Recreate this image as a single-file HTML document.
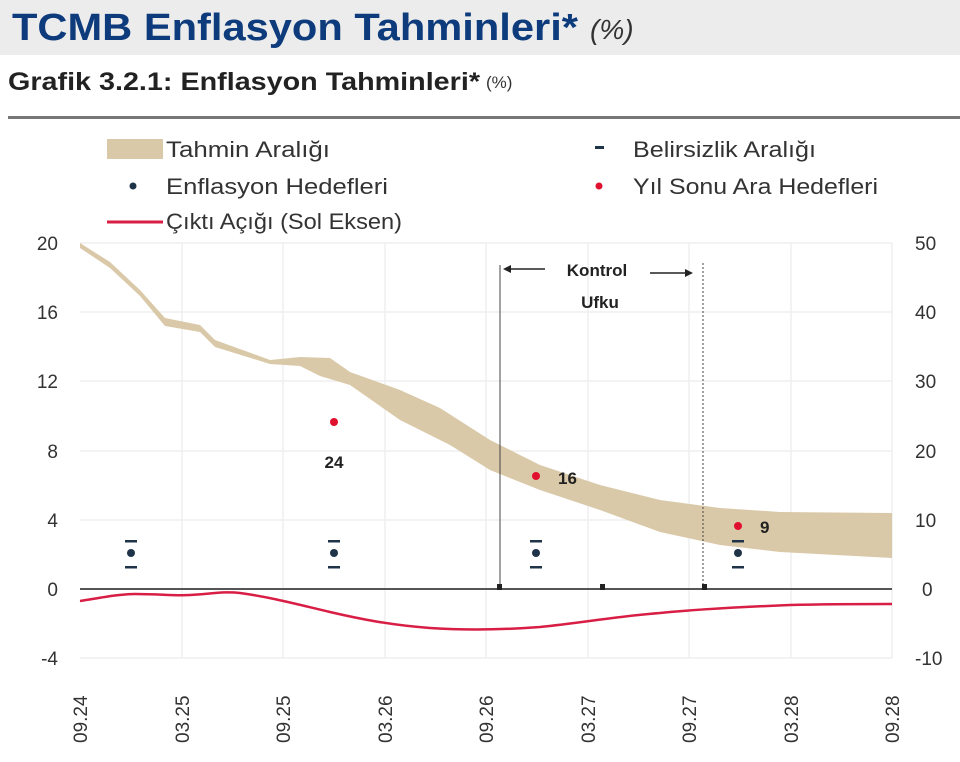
<!DOCTYPE html>
<html><head><meta charset="utf-8"><style>
body{margin:0;width:960px;height:757px;background:#fff;overflow:hidden;font-family:"Liberation Sans",sans-serif}
</style></head><body>
<svg width="960" height="757" xmlns="http://www.w3.org/2000/svg" font-family="Liberation Sans, sans-serif">
<rect x="0" y="0" width="960" height="55" fill="#ececec"/>
<text x="12" y="40" font-size="38" font-weight="bold" fill="#0d3b7c" textLength="566" lengthAdjust="spacingAndGlyphs">TCMB Enflasyon Tahminleri*</text>
<text x="590" y="39" font-size="28" font-style="italic" fill="#333">(%)</text>
<text x="8" y="90" font-size="25" font-weight="bold" fill="#222" textLength="472" lengthAdjust="spacingAndGlyphs">Grafik 3.2.1: Enflasyon Tahminleri*</text>
<text x="486" y="88" font-size="17" fill="#333">(%)</text>
<rect x="8" y="116" width="952" height="3" fill="#777"/>
<!-- legend -->
<g font-size="22" fill="#333">
<rect x="107" y="139" width="56" height="20" fill="#dac9a8"/>
<text x="166" y="157" textLength="164" lengthAdjust="spacingAndGlyphs">Tahmin Aralığı</text>
<circle cx="133" cy="186" r="3.5" fill="#1f3448"/>
<text x="166" y="194" textLength="222" lengthAdjust="spacingAndGlyphs">Enflasyon Hedefleri</text>
<line x1="107" y1="222" x2="163" y2="222" stroke="#d81e45" stroke-width="3"/>
<text x="166" y="229" textLength="236" lengthAdjust="spacingAndGlyphs">Çıktı Açığı (Sol Eksen)</text>
<rect x="595" y="146" width="9" height="3" fill="#1f3448"/>
<text x="633" y="157" textLength="183" lengthAdjust="spacingAndGlyphs">Belirsizlik Aralığı</text>
<circle cx="599" cy="186" r="3.5" fill="#e0102f"/>
<text x="633" y="194" textLength="245" lengthAdjust="spacingAndGlyphs">Yıl Sonu Ara Hedefleri</text>
</g>
<!-- grid -->
<g stroke="#efefef" stroke-width="1.5">
<line x1="80" y1="243" x2="892" y2="243"/><line x1="80" y1="312" x2="892" y2="312"/>
<line x1="80" y1="381" x2="892" y2="381"/><line x1="80" y1="451" x2="892" y2="451"/>
<line x1="80" y1="520" x2="892" y2="520"/><line x1="80" y1="658" x2="892" y2="658"/>
<line x1="182" y1="243" x2="182" y2="658"/><line x1="283" y1="243" x2="283" y2="658"/>
<line x1="385" y1="243" x2="385" y2="658"/><line x1="486" y1="243" x2="486" y2="658"/>
<line x1="588" y1="243" x2="588" y2="658"/><line x1="689" y1="243" x2="689" y2="658"/>
<line x1="791" y1="243" x2="791" y2="658"/><line x1="892" y1="243" x2="892" y2="658"/>
</g>
<!-- band -->
<path d="M80,243 L110,262 L140,290 L165,318 L200,325 L215,340 L270,360 L300,357 L330,358 L350,372 L400,390 L440,408 L490,440 L540,465 L600,485 L660,500 L720,508 L780,512 L892,513 L892,558 L780,552 L720,545 L660,532 L600,510 L540,490 L490,470 L450,445 L400,420 L350,385 L320,376 L300,366 L270,364 L215,347 L200,332 L165,326 L140,296 L110,268 L80,248 Z" fill="#dac9a8"/>
<!-- zero line -->
<line x1="80" y1="589" x2="892" y2="589" stroke="#555" stroke-width="2"/>
<!-- control horizon -->
<line x1="500" y1="265" x2="500" y2="589" stroke="#444" stroke-width="1"/>
<line x1="703" y1="263" x2="703" y2="589" stroke="#444" stroke-width="1" stroke-dasharray="2,2"/>
<rect x="497" y="584" width="5" height="6" fill="#222"/><rect x="600" y="584" width="5" height="6" fill="#222"/><rect x="702" y="584" width="5" height="6" fill="#222"/>
<line x1="508" y1="269" x2="545" y2="269" stroke="#222" stroke-width="1.5"/><path d="M503,269 L511,265 L511,273 Z" fill="#222"/>
<line x1="650" y1="273" x2="688" y2="273" stroke="#222" stroke-width="1.5"/><path d="M693,273 L685,269 L685,277 Z" fill="#222"/>
<text x="597" y="276" font-size="17" font-weight="bold" fill="#222" text-anchor="middle">Kontrol</text>
<text x="600" y="308" font-size="17" font-weight="bold" fill="#222" text-anchor="middle">Ufku</text>
<!-- output gap -->
<path d="M80,601 C105,597 120,594 135,594 C160,594 175,596 190,595 C210,594 225,591 240,593 C270,597 300,605 330,612 C360,619 390,625 430,628 C460,630 500,630 540,627 C580,623 620,616 660,613 C700,609 740,607 790,605 C830,604 860,604 892,604" fill="none" stroke="#d81e45" stroke-width="2.5"/>
<!-- targets -->
<g fill="#1f3448">
<circle cx="131" cy="553" r="4"/><rect x="125" y="540" width="12" height="2.5"/><rect x="125" y="566" width="12" height="2.5"/>
<circle cx="334" cy="553" r="4"/><rect x="328" y="540" width="12" height="2.5"/><rect x="328" y="566" width="12" height="2.5"/>
<circle cx="536" cy="553" r="4"/><rect x="530" y="540" width="12" height="2.5"/><rect x="530" y="566" width="12" height="2.5"/>
<circle cx="738" cy="553" r="4"/><rect x="732" y="540" width="12" height="2.5"/><rect x="732" y="566" width="12" height="2.5"/>
</g>
<g fill="#e0102f"><circle cx="334" cy="422" r="4"/><circle cx="536" cy="476" r="4"/><circle cx="738" cy="526" r="4"/></g>
<g font-size="17" font-weight="bold" fill="#222">
<text x="334" y="468" text-anchor="middle">24</text><text x="558" y="484">16</text><text x="760" y="533">9</text>
</g>
<!-- axes labels -->
<g font-size="19" fill="#333" text-anchor="end">
<text x="58" y="250">20</text><text x="58" y="319">16</text><text x="58" y="388">12</text><text x="58" y="458">8</text><text x="58" y="527">4</text><text x="58" y="596">0</text><text x="58" y="665">-4</text>
</g>
<g font-size="19" fill="#333" text-anchor="start">
<text x="915" y="250">50</text><text x="915" y="319">40</text><text x="915" y="388">30</text><text x="915" y="458">20</text><text x="915" y="527">10</text><text x="922" y="596">0</text><text x="915" y="665">-10</text>
</g>
<g font-size="19" fill="#333">
<text transform="translate(87,743) rotate(-90)">09.24</text>
<text transform="translate(189,743) rotate(-90)">03.25</text>
<text transform="translate(290,743) rotate(-90)">09.25</text>
<text transform="translate(392,743) rotate(-90)">03.26</text>
<text transform="translate(493,743) rotate(-90)">09.26</text>
<text transform="translate(595,743) rotate(-90)">03.27</text>
<text transform="translate(696,743) rotate(-90)">09.27</text>
<text transform="translate(798,743) rotate(-90)">03.28</text>
<text transform="translate(899,743) rotate(-90)">09.28</text>
</g>
</svg>
</body></html>
